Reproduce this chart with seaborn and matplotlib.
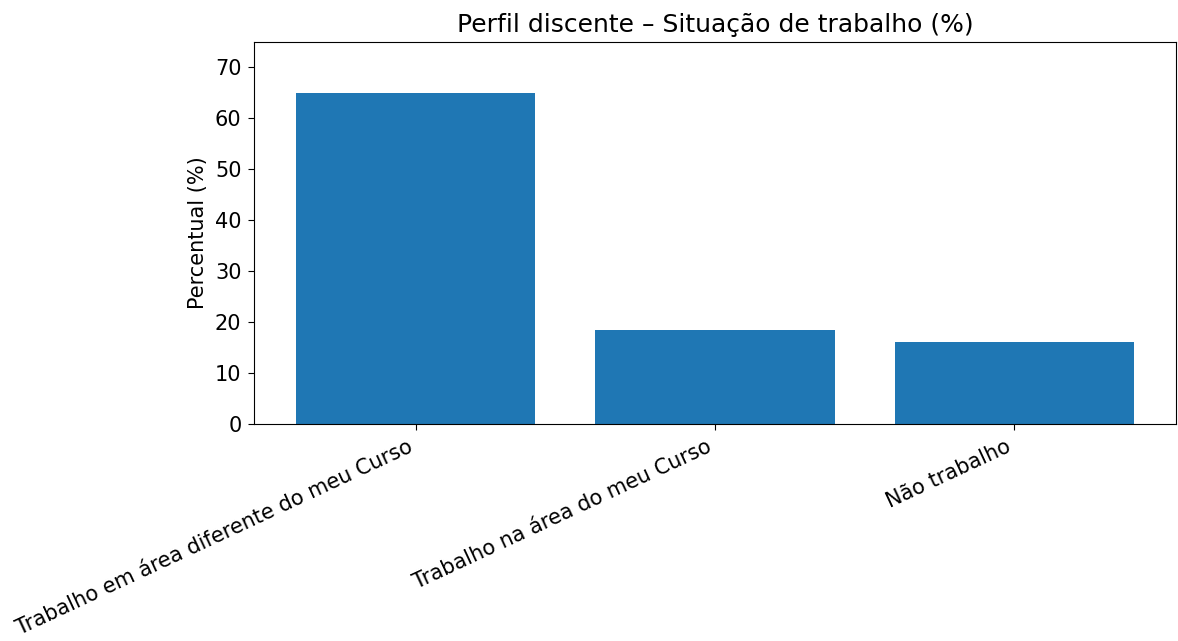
import matplotlib
matplotlib.use("Agg")
import matplotlib.pyplot as plt
import seaborn as sns
import pandas as pd

categorias = ["Trabalho em área diferente do meu Curso", "Trabalho na área do meu Curso", "Não trabalho"]
percentuais = [65.0, 18.5, 16.1]

df = pd.DataFrame({"categoria": categorias, "percentual": percentuais})

plt.rcParams['font.family'] = ['DejaVu Sans']
fig = plt.figure(figsize=(11.78, 6.41), dpi=100)
ax = fig.add_axes([254/1178, 1 - 424/641, (1176-254)/1178, (424-42)/641])

sns.barplot(data=df, x="categoria", y="percentual", color="#1f77b4", saturation=1,
            width=0.8, ax=ax, edgecolor="none")

ax.set_xlim(-0.54, 2.54)
ax.set_ylim(0, 75)
ax.set_xlabel("")
ax.set_ylabel("Percentual (%)", fontsize=15, labelpad=5)
ax.set_title("Perfil discente – Situação de trabalho (%)", fontsize=18, pad=7.5)
ax.tick_params(axis="both", labelsize=15, length=4.5, pad=4.5)
plt.setp(ax.get_xticklabels(), rotation=25, ha="right", rotation_mode="default")

fig.savefig("out.png", dpi=100)
